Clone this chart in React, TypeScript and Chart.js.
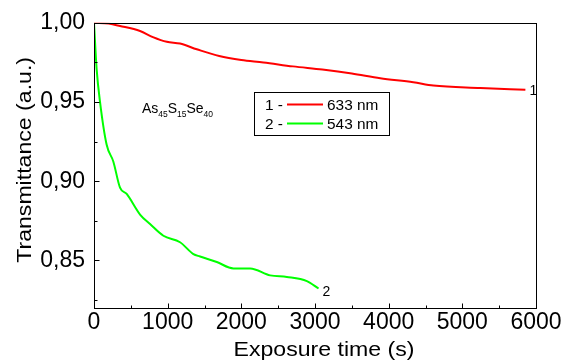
import React, { useEffect, useRef } from "react";
import { Chart, registerables } from "chart.js";

Chart.register(...registerables);

// ---- data ----
const RED_X = [0, 200, 353, 625, 800, 988, 1168, 1395, 1700, 2000, 2300, 2700, 3100, 3500, 3886, 4334, 4606, 5245, 5856];
const RED_Y = [1.0, 0.9995, 0.998, 0.9948, 0.991, 0.988, 0.9869, 0.9833, 0.979, 0.9765, 0.975, 0.9725, 0.9705, 0.968, 0.965, 0.9625, 0.9604, 0.9589, 0.9577];
const GREEN_X = [0, 36, 82, 172, 262, 353, 444, 625, 761, 942, 1168, 1350, 1440, 1667, 1893, 2120, 2391, 2618, 2890, 3048];
const GREEN_Y = [1.0, 0.9706, 0.95, 0.923, 0.9125, 0.896, 0.892, 0.879, 0.873, 0.8656, 0.8615, 0.854, 0.8525, 0.849, 0.845, 0.845, 0.8406, 0.8396, 0.837, 0.8323];
const SERIES_LABELS = ["633 nm", "543 nm"];
const SERIES_NUMS = ["1", "2"];
const X_TICKS = [0, 1000, 2000, 3000, 4000, 5000, 6000];
const X_MINOR = [500, 1500, 2500, 3500, 4500, 5500];
const Y_TICKS = [0.85, 0.9, 0.95, 1.0];
const Y_MINOR = [0.825, 0.875, 0.925, 0.975];
const X_TITLE = "Exposure time (s)";
const Y_TITLE = "Transmittance (a.u.)";
const SAMPLE_PARTS: [string, boolean][] = [["As", false], ["45", true], ["S", false], ["15", true], ["Se", false], ["40", true]];

const FONT = "'Liberation Sans', Arial, sans-serif";
const STRETCH = 1.1;

const overlay = {
  id: "overlay",
  afterDatasetsDraw(chart: any) {
    const { ctx, chartArea: a, scales } = chart;
    const x = scales.x;
    const y = scales.y;
    ctx.save();
    ctx.strokeStyle = "#000";
    ctx.lineWidth = 1;
    ctx.strokeRect(Math.round(a.left) + 0.5, Math.round(a.top) + 0.5, Math.round(a.right - a.left), Math.round(a.bottom - a.top));
    const seg = (x1: number, y1: number, x2: number, y2: number) => {
      ctx.beginPath();
      ctx.moveTo(x1, y1);
      ctx.lineTo(x2, y2);
      ctx.stroke();
    };
    const b = Math.round(a.bottom) + 0.5;
    const l = Math.round(a.left) + 0.5;
    X_TICKS.forEach((v) => { const p = Math.round(x.getPixelForValue(v)) + 0.5; seg(p, b, p, b - 5); });
    X_MINOR.forEach((v) => { const p = Math.round(x.getPixelForValue(v)) + 0.5; seg(p, b, p, b - 3); });
    Y_TICKS.forEach((v) => { const p = Math.round(y.getPixelForValue(v)) + 0.5; seg(l, p, l + 5, p); });
    Y_MINOR.forEach((v) => { const p = Math.round(y.getPixelForValue(v)) + 0.5; seg(l, p, l + 3, p); });

    ctx.fillStyle = "#000";
    // y axis title (rotated)
    ctx.save();
    ctx.translate(25, (a.top + a.bottom) / 2 - 5.5);
    ctx.rotate(-Math.PI / 2);
    ctx.scale(STRETCH, 1);
    ctx.font = `21px ${FONT}`;
    ctx.textAlign = "center";
    ctx.textBaseline = "middle";
    ctx.fillText(Y_TITLE, 0, 0);
    ctx.restore();

    // x axis title
    ctx.save();
    ctx.translate((a.left + a.right) / 2 + 9, 356);
    ctx.scale(STRETCH, 1);
    ctx.font = `21px ${FONT}`;
    ctx.textAlign = "center";
    ctx.textBaseline = "alphabetic";
    ctx.fillText(X_TITLE, 0, 0);
    ctx.restore();

    // end labels
    ctx.font = `14px ${FONT}`;
    ctx.textBaseline = "middle";
    ctx.textAlign = "left";
    chart.data.datasets.forEach((ds: any, i: number) => {
      const pts = chart.getDatasetMeta(i).data;
      const last = pts[pts.length - 1];
      ctx.fillText(SERIES_NUMS[i], last.x + 4, last.y + (i === 0 ? 1 : 4));
    });

    // sample annotation
    const ax = x.getPixelForValue(650);
    const ay = 113;
    let cx = ax;
    ctx.textBaseline = "alphabetic";
    SAMPLE_PARTS.forEach(([t, sub]) => {
      ctx.font = sub ? `8.5px ${FONT}` : `14px ${FONT}`;
      ctx.fillText(t, cx, sub ? ay + 3.5 : ay);
      cx += ctx.measureText(t).width;
    });

    // legend box
    const bx = 254.5, by = 92.5, bw = 135, bh = 43;
    ctx.lineWidth = 1;
    ctx.strokeStyle = "#000";
    ctx.strokeRect(bx, by, bw, bh);
    chart.data.datasets.forEach((ds: any, i: number) => {
      const ly = 104.5 + i * 19;
      ctx.fillStyle = "#000";
      ctx.textBaseline = "alphabetic";
      ctx.font = `14px ${FONT}`;
      ctx.save();
      ctx.translate(265, ly + 5.5);
      ctx.scale(STRETCH, 1);
      ctx.fillText(SERIES_NUMS[i] + " -", 0, 0);
      ctx.restore();
      ctx.save();
      ctx.translate(327, ly + 5.5);
      ctx.scale(STRETCH, 1);
      ctx.fillText(SERIES_LABELS[i], 0, 0);
      ctx.restore();
      ctx.strokeStyle = ds.borderColor;
      ctx.lineWidth = 2;
      seg(287, ly, 323, ly);
    });
    ctx.restore();
  },
};

export default function App() {
  const ref = useRef<HTMLCanvasElement>(null);
  useEffect(() => {
    document.body.style.margin = "0";
    const chart = new Chart(ref.current!, {
      type: "line",
      data: {
        datasets: [
          {
            label: SERIES_LABELS[0],
            data: RED_X.map((v, i) => ({ x: v, y: RED_Y[i] })),
            borderColor: "#ff0000",
            borderWidth: 2,
            pointRadius: 0,
            cubicInterpolationMode: "monotone",
            fill: false,
          },
          {
            label: SERIES_LABELS[1],
            data: GREEN_X.map((v, i) => ({ x: v, y: GREEN_Y[i] })),
            borderColor: "#00ff00",
            borderWidth: 2,
            pointRadius: 0,
            cubicInterpolationMode: "monotone",
            fill: false,
          },
        ],
      },
      options: {
        animation: false,
        responsive: true,
        maintainAspectRatio: false,
        layout: { padding: { left: 0, top: 20, right: 34, bottom: 0 } },
        plugins: { legend: { display: false }, tooltip: { enabled: false } },
        scales: {
          x: {
            type: "linear",
            min: 0,
            max: 6000,
            afterFit: (s: any) => { s.height = 55; },
            afterBuildTicks: (s: any) => { s.ticks = X_TICKS.map((v) => ({ value: v })); },
            grid: { display: false, drawTicks: false },
            border: { display: false },
            ticks: { color: "#000", font: { family: FONT, size: 23 }, padding: 1, maxRotation: 0, callback: (v: any) => String(v) },
            title: { display: false, text: X_TITLE },
          },
          y: {
            type: "linear",
            min: 0.82,
            max: 1.0,
            afterFit: (s: any) => { s.width = 94; },
            afterBuildTicks: (s: any) => { s.ticks = Y_TICKS.map((v) => ({ value: v })); },
            grid: { display: false, drawTicks: false },
            border: { display: false },
            ticks: { color: "#000", font: { family: FONT, size: 23 }, padding: 9, callback: (v: any) => Number(v).toFixed(2).replace(".", ",") },
            title: { display: false, text: Y_TITLE },
          },
        },
      },
      plugins: [overlay],
    } as any);
    return () => chart.destroy();
  }, []);
  return (
    <div style={{ width: 570, height: 363, position: "relative" }}>
      <canvas ref={ref} />
    </div>
  );
}
